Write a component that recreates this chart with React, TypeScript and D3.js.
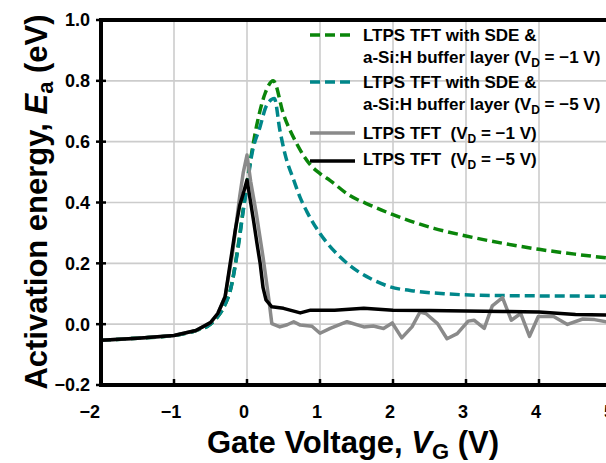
import React from "react";
import * as d3 from "d3";

type Pt = [number, number];

const xTicks = [-2, -1, 0, 1, 2, 3, 4, 5];
const yTicks = [-0.2, 0, 0.2, 0.4, 0.6, 0.8, 1.0];

const sdeVd1: Pt[] = [
  [-2, -0.053], [-1.5, -0.046], [-1, -0.037], [-0.7, -0.021], [-0.5, 0.0], [-0.4, 0.025],
  [-0.3, 0.065], [-0.23, 0.11], [-0.12, 0.26], [-0.05, 0.38], [0, 0.465], [0.13, 0.65],
  [0.25, 0.76], [0.36, 0.8], [0.5, 0.69], [0.68, 0.594], [0.87, 0.523], [1.0, 0.495],
  [1.14, 0.472], [1.4, 0.424], [1.7, 0.39], [2.0, 0.36], [2.56, 0.315], [3.0, 0.29],
  [3.5, 0.266], [4.0, 0.246], [4.5, 0.23], [5.0, 0.216], [5.5, 0.205],
];

const sdeVd5: Pt[] = [
  [-2, -0.053], [-1.5, -0.046], [-1, -0.037], [-0.7, -0.021], [-0.5, 0.0], [-0.4, 0.025],
  [-0.3, 0.065], [-0.23, 0.11], [-0.12, 0.254], [-0.05, 0.375], [0, 0.452], [0.06, 0.55],
  [0.18, 0.65], [0.27, 0.72], [0.375, 0.742], [0.45, 0.638], [0.52, 0.56], [0.64, 0.474],
  [0.73, 0.415], [0.82, 0.37], [1.0, 0.298], [1.28, 0.22], [1.53, 0.172], [1.69, 0.15],
  [1.96, 0.123], [2.33, 0.108], [2.7, 0.1], [3.2, 0.095], [4.0, 0.093], [5.0, 0.092], [5.5, 0.092],
];

const ltpsVd1: Pt[] = [
  [-2, -0.053], [-1.5, -0.046], [-1, -0.037], [-0.7, -0.021], [-0.5, 0.005], [-0.4, 0.035],
  [-0.3, 0.09], [-0.2, 0.23], [-0.1, 0.42], [-0.05, 0.5], [0, 0.556], [0.05, 0.47],
  [0.13, 0.36], [0.22, 0.22], [0.3, 0.08], [0.34, 0.002], [0.45, -0.009], [0.55, -0.002], [0.64, 0.008],
  [0.73, -0.003], [0.89, -0.007], [1.0, -0.03], [1.14, -0.014], [1.37, 0.008], [1.6, -0.009],
  [1.73, -0.006], [1.87, -0.014], [1.99, 0.004], [2.12, -0.045], [2.26, -0.009], [2.37, 0.04],
  [2.45, 0.035], [2.61, 0.002], [2.74, -0.048], [2.88, -0.031], [3.03, 0.01], [3.11, 0.013],
  [3.25, -0.014], [3.36, 0.06], [3.5, 0.087], [3.62, 0.013], [3.75, 0.035], [3.87, -0.04],
  [3.99, 0.025], [4.2, 0.025], [4.39, -0.001], [4.6, 0.017], [4.76, 0.015], [4.92, 0.008], [5.1, 0.01],
];

const ltpsVd5: Pt[] = [
  [-2, -0.053], [-1.5, -0.046], [-1, -0.037], [-0.7, -0.021], [-0.5, 0.005], [-0.4, 0.035],
  [-0.3, 0.09], [-0.23, 0.2], [-0.16, 0.31], [-0.1, 0.39], [-0.05, 0.43], [0, 0.474],
  [0.05, 0.4], [0.09, 0.34], [0.14, 0.26], [0.18, 0.2], [0.22, 0.12], [0.26, 0.08],
  [0.34, 0.057], [0.5, 0.052], [0.73, 0.037], [0.87, 0.046], [1.2, 0.046], [1.6, 0.052],
  [2.0, 0.046], [2.5, 0.045], [3.0, 0.043], [3.5, 0.042], [4.0, 0.04], [4.5, 0.032],
  [5.0, 0.03], [5.5, 0.03],
];

const legendLabels = [
  { l1: "LTPS TFT with SDE &", l2a: "a-Si:H buffer layer (V", l2b: " = \u22121 V)" },
  { l1: "LTPS TFT with SDE &", l2a: "a-Si:H buffer layer (V", l2b: " = \u22125 V)" },
  { l1a: "LTPS TFT \u00a0(V", l1b: " = \u22121 V)" },
  { l1a: "LTPS TFT \u00a0(V", l1b: " = \u22125 V)" },
];

const FONT = "'Liberation Sans', Arial, Helvetica, sans-serif";

export default function App() {
  const x = d3.scaleLinear().domain([-2, 5]).range([101, 612]);
  const y = d3.scaleLinear().domain([-0.2, 1.0]).range([385, 20]);

  const smooth = d3
    .line<Pt>()
    .x((d) => x(d[0]))
    .y((d) => y(d[1]))
    .curve(d3.curveMonotoneX);
  const straight = d3
    .line<Pt>()
    .x((d) => x(d[0]))
    .y((d) => y(d[1]))
    .curve(d3.curveLinear);

  const fmtY = d3.format(".1f");
  const fmtX = d3.format("d");

  const series = [
    { data: sdeVd1, color: "#0a850a", dash: "10,5", gen: smooth },
    { data: sdeVd5, color: "#00878a", dash: "10,5", gen: smooth },
    { data: ltpsVd1, color: "#8a8a8a", dash: undefined, gen: straight },
    { data: ltpsVd5, color: "#000000", dash: undefined, gen: straight },
  ];

  const legendRows = [
    { ly: 35, t1: 41, t2: 63 },
    { ly: 82, t1: 88, t2: 110 },
    { ly: 133, t1: 139 },
    { ly: 161, t1: 165 },
  ];

  return (
    <svg
      width={606}
      height={463}
      style={{ position: "absolute", left: 0, top: 0, background: "#fff" }}
      fontFamily={FONT}
      fontWeight="bold"
    >
      <defs>
        <clipPath id="plotclip">
          <rect x={101} y={20} width={600} height={365} />
        </clipPath>
      </defs>
      <rect x={0} y={0} width={606} height={463} fill="#fff" />
      {/* grid */}
      {xTicks.slice(1).map((t) => (
        <line key={"gx" + t} x1={x(t)} x2={x(t)} y1={20} y2={385} stroke="#cccccc" strokeWidth={1.6} />
      ))}
      {yTicks.slice(1, -1).map((t) => (
        <line key={"gy" + t} x1={101} x2={620} y1={y(t)} y2={y(t)} stroke="#cccccc" strokeWidth={1.6} />
      ))}

      {/* legend */}
      {series.map((s, i) => {
        const r = legendRows[i];
        const lab: any = legendLabels[i];
        return (
          <g key={"lg" + i} fontSize={17}>
            <line x1={310} x2={355} y1={r.ly} y2={r.ly} stroke={s.color} strokeWidth={3.5} strokeDasharray={s.dash} />
            {lab.l1 ? (
              <>
                <text x={363} y={r.t1}>{lab.l1}</text>
                <text x={363} y={r.t2}>
                  {lab.l2a}
                  <tspan fontSize={12} dy={4}>D</tspan>
                  <tspan dy={-4}>{lab.l2b}</tspan>
                </text>
              </>
            ) : (
              <text x={363} y={r.t1}>
                {lab.l1a}
                <tspan fontSize={12} dy={4}>D</tspan>
                <tspan dy={-4}>{lab.l1b}</tspan>
              </text>
            )}
          </g>
        );
      })}

      {/* curves */}
      <g clipPath="url(#plotclip)">
        {series.map((s, i) => (
          <path
            key={"s" + i}
            d={s.gen(s.data) || ""}
            fill="none"
            stroke={s.color}
            strokeWidth={3.5}
            strokeDasharray={s.dash}
            strokeLinejoin="round"
          />
        ))}
      </g>

      {/* axes */}
      <line x1={101} x2={606} y1={20} y2={20} stroke="#000" strokeWidth={4} />
      <line x1={101} x2={606} y1={385} y2={385} stroke="#000" strokeWidth={4} />
      <line x1={101} x2={101} y1={18} y2={387} stroke="#000" strokeWidth={4} />
      {yTicks.map((t) => (
        <g key={"yt" + t}>
          <line x1={96} x2={106} y1={y(t)} y2={y(t)} stroke="#000" strokeWidth={2.5} />
          <text x={90} y={y(t)} dy="0.36em" textAnchor="end" fontSize={18}>
            {fmtY(t)}
          </text>
        </g>
      ))}
      {xTicks.map((t) => (
        <g key={"xt" + t}>
          <line x1={x(t)} x2={x(t)} y1={379} y2={385} stroke="#000" strokeWidth={2.5} />
          <text
            x={t === -2 ? x(t) - 1 : x(t) - 3}
            y={418}
            textAnchor={t === -2 ? "end" : "middle"}
            fontSize={18}
          >
            {fmtX(t)}
          </text>
        </g>
      ))}

      {/* axis titles */}
      <text x={353} y={453} textAnchor="middle" fontSize={31}>
        Gate Voltage,{" "}
        <tspan fontStyle="italic">V</tspan>
        <tspan fontSize={22} dy={6}>G</tspan>
        <tspan dy={-6}> (V)</tspan>
      </text>
      <text transform="translate(47,202) rotate(-90)" textAnchor="middle" fontSize={31}>
        Activation energy,{" "}
        <tspan fontStyle="italic">E</tspan>
        <tspan fontSize={22} dy={6}>a</tspan>
        <tspan dy={-6}> (eV)</tspan>
      </text>
    </svg>
  );
}
